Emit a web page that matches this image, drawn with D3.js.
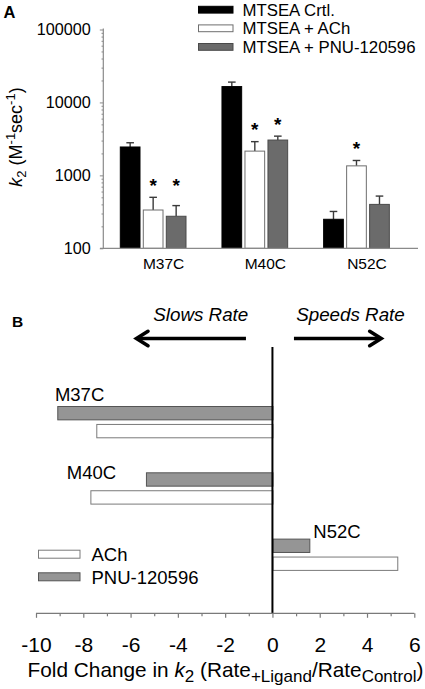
<!DOCTYPE html>
<html>
<head>
<meta charset="utf-8">
<script src="https://cdn.jsdelivr.net/npm/d3@7"></script>
<style>
  html, body { margin: 0; padding: 0; background: #fff; }
  svg { display: block; font-family: "Liberation Sans", Arial, Helvetica, sans-serif; }
</style>
</head>
<body>
<svg id="chart" width="425" height="689"></svg>
<script>
// ---------- Panel A data ----------
const mutants = ["M37C", "M40C", "N52C"];
const seriesA = ["MTSEA Crtl.", "MTSEA + ACh", "MTSEA + PNU-120596"];
const k2Ctrl = [2450, 16500, 250];
const k2ACh = [335, 2150, 1350];
const k2PNU = [275, 3050, 400];
const errCtrl = [2800, 19000, 320];
const errACh = [500, 2900, 1600];
const errPNU = [385, 3450, 520];
const sigCtrl = [false, false, false];
const sigACh = [true, true, true];
const sigPNU = [true, true, false];
const yTicksA = [100, 1000, 10000, 100000];

// ---------- Panel B data ----------
const seriesB = ["PNU-120596", "ACh"];
const foldACh = [-7.45, -7.7, 5.28];
const foldPNU = [-9.1, -5.35, 1.56];
const xTicksB = [-10, -8, -6, -4, -2, 0, 2, 4, 6];

const svg = d3.select("#chart");
const FONT = "\"Liberation Sans\", Arial, Helvetica, sans-serif";

// ================= PANEL A =================
const yA = d3.scaleLog().domain([100, 100000]).range([248.3, 29.5]);
const xA = d3.scaleBand().domain(mutants).range([102.3, 407.3]);
const xInA = d3.scaleBand().domain(seriesA).range([17.5, 84.2]).paddingInner(0.1);
const fillA = { "MTSEA Crtl.": "#000000", "MTSEA + ACh": "#ffffff", "MTSEA + PNU-120596": "#6b6b6b" };
const strokeA = { "MTSEA Crtl.": "#000000", "MTSEA + ACh": "#6e6e6e", "MTSEA + PNU-120596": "#4a4a4a" };

const rowsA = [];
mutants.forEach((m, i) => {
  rowsA.push({ m, s: seriesA[0], v: k2Ctrl[i], e: errCtrl[i], sig: sigCtrl[i] });
  rowsA.push({ m, s: seriesA[1], v: k2ACh[i], e: errACh[i], sig: sigACh[i] });
  rowsA.push({ m, s: seriesA[2], v: k2PNU[i], e: errPNU[i], sig: sigPNU[i] });
});

const gA = svg.append("g");

// error bars (behind bars)
const errG = gA.append("g").attr("stroke", "#3a3a3a").attr("stroke-width", 1.4);
rowsA.forEach(d => {
  const cx = xA(d.m) + xInA(d.s) + xInA.bandwidth() / 2;
  errG.append("line").attr("x1", cx).attr("x2", cx).attr("y1", yA(d.v)).attr("y2", yA(d.e));
  errG.append("line").attr("x1", cx - 3.8).attr("x2", cx + 3.8).attr("y1", yA(d.e)).attr("y2", yA(d.e));
});

gA.append("g").selectAll("rect").data(rowsA).join("rect")
  .attr("x", d => xA(d.m) + xInA(d.s) + 0.5)
  .attr("width", xInA.bandwidth() - 1)
  .attr("y", d => yA(d.v))
  .attr("height", d => yA(100) - yA(d.v))
  .attr("fill", d => fillA[d.s])
  .attr("stroke", d => strokeA[d.s])
  .attr("stroke-width", 1);

// asterisks
const sigRows = rowsA.filter(d => d.sig);
gA.append("g").selectAll("text").data(sigRows).join("text")
  .attr("x", d => xA(d.m) + xInA(d.s) + xInA.bandwidth() / 2)
  .attr("y", d => {
    const grp = sigRows.filter(r => r.m === d.m && d.m === "M37C");
    const e = grp.length ? d3.max(grp, r => r.e) : d.e;
    return yA(e) - 16 + 10.5;
  })
  .attr("text-anchor", "middle")
  .attr("font-size", 19).attr("font-weight", "bold")
  .text("*");

// Y axis (log) major + minor ticks
const minor = [];
for (let dec = 100; dec < 100000; dec *= 10) for (let k = 2; k <= 9; k++) minor.push(dec * k);
const yAxisMinor = gA.append("g").attr("transform", "translate(103.3,0)")
  .call(d3.axisLeft(yA).tickValues(minor).tickSize(1.8).tickFormat(""));
const yAxisMajor = gA.append("g").attr("transform", "translate(103.3,0)")
  .call(d3.axisLeft(yA).tickValues(yTicksA).tickSize(3.5).tickPadding(9.1).tickFormat(d3.format("d")));
[yAxisMinor, yAxisMajor].forEach(a => {
  a.select(".domain").remove();
  a.selectAll("line").attr("stroke", "#8a8a8a");
});
yAxisMajor.selectAll("text").attr("font-size", 16.2).attr("font-family", FONT).attr("fill", "#000");
gA.append("line").attr("x1", 103.3).attr("x2", 103.3).attr("y1", yA(100000) - 1).attr("y2", yA(100))
  .attr("stroke", "#8a8a8a").attr("stroke-width", 1.2);

// X axis
const xAxisA = gA.append("g").attr("transform", `translate(0,${yA(100)})`)
  .call(d3.axisBottom(xA).tickSize(0).tickPadding(9.5));
xAxisA.select(".domain").remove();
xAxisA.selectAll("text").attr("font-size", 15.5).attr("font-family", FONT).attr("fill", "#000")
  .attr("dx", 10.5);
gA.append("line").attr("x1", 100).attr("x2", 418).attr("y1", yA(100)).attr("y2", yA(100))
  .attr("stroke", "#8a8a8a").attr("stroke-width", 1.2);

// Y title
const yt = gA.append("text").attr("transform", "translate(22,137) rotate(-90)")
  .attr("text-anchor", "middle").attr("font-size", 18);
yt.append("tspan").attr("font-style", "italic").text("k");
yt.append("tspan").attr("font-size", 13).attr("dy", 4).text("2");
yt.append("tspan").attr("dy", -4).text(" (M");
yt.append("tspan").attr("font-size", 13).attr("dy", -7).text("-1");
yt.append("tspan").attr("dy", 7).text("sec");
yt.append("tspan").attr("font-size", 13).attr("dy", -7).text("-1");
yt.append("tspan").attr("dy", 7).text(")");

// Panel label
svg.append("text").attr("x", 3.5).attr("y", 18.3).attr("font-size", 16.5).attr("font-weight", "bold").text("A");

// Legend A
const legA = gA.append("g");
seriesA.forEach((s, i) => {
  const cy = 9.7 + i * 18.6;
  legA.append("rect").attr("x", 198.5).attr("y", cy - 3.4).attr("width", 34.5).attr("height", 6.8)
    .attr("fill", fillA[s]).attr("stroke", strokeA[s]).attr("stroke-width", 1);
  legA.append("text").attr("x", 242.5).attr("y", cy + 5.8).attr("font-size", 16.8).text(s);
});

// ================= PANEL B =================
const xB = d3.scaleLinear().domain([-10, 6]).range([36, 414.3]);
const yB = d3.scaleBand().domain(mutants).range([406, 570.9]).paddingInner(0.513);
const yInB = d3.scaleBand().domain(seriesB).range([0, yB.bandwidth()]).paddingInner(0.2);
const fillB = { "PNU-120596": "#959595", "ACh": "#ffffff" };
const strokeB = { "PNU-120596": "#555555", "ACh": "#7a7a7a" };

const rowsB = [];
mutants.forEach((m, i) => {
  rowsB.push({ m, s: "PNU-120596", v: foldPNU[i] });
  rowsB.push({ m, s: "ACh", v: foldACh[i] });
});

const gB = svg.append("g");
gB.append("g").selectAll("rect").data(rowsB).join("rect")
  .attr("x", d => Math.min(xB(0), xB(d.v)) + 0.5)
  .attr("width", d => Math.abs(xB(d.v) - xB(0)))
  .attr("y", d => yB(d.m) + yInB(d.s) + 0.5)
  .attr("height", yInB.bandwidth() - 1)
  .attr("fill", d => fillB[d.s])
  .attr("stroke", d => strokeB[d.s])
  .attr("stroke-width", 1);

// category labels in B (placed in data units)
const labelPosB = { M37C: [-9.2, -5.5], M40C: [-8.7, 6.5], N52C: [1.73, -0.3] };
gB.append("g").selectAll("text").data(mutants).join("text")
  .attr("x", m => xB(labelPosB[m][0]))
  .attr("y", m => yB(m) + labelPosB[m][1])
  .attr("font-size", 18.5)
  .text(m => m);

// zero line
gB.append("line").attr("x1", xB(0)).attr("x2", xB(0)).attr("y1", 347).attr("y2", 613.3)
  .attr("stroke", "#000").attr("stroke-width", 2);

// X axis B
const minorB = d3.range(-9, 6, 2);
const axB1 = gB.append("g").attr("transform", "translate(0,613.3)")
  .call(d3.axisBottom(xB).tickValues(minorB).tickSize(3).tickFormat(""));
const axB2 = gB.append("g").attr("transform", "translate(0,613.3)")
  .call(d3.axisBottom(xB).tickValues(xTicksB).tickSize(4.5).tickPadding(19).tickFormat(d3.format("d")));
[axB1, axB2].forEach(a => {
  a.select(".domain").remove();
  a.selectAll("line").attr("stroke", "#7a7a7a").attr("stroke-width", 1.2);
});
axB2.selectAll("text").attr("font-size", 21).attr("font-family", FONT).attr("fill", "#000")
  .text(d => d < 0 ? "-" + Math.abs(d) : d);
gB.append("line").attr("x1", xB(-10)).attr("x2", xB(6)).attr("y1", 613.3).attr("y2", 613.3)
  .attr("stroke", "#7a7a7a").attr("stroke-width", 1.2);

// X title B
const xt = gB.append("text").attr("x", 225.5).attr("y", 677).attr("text-anchor", "middle").attr("font-size", 20.8);
xt.append("tspan").text("Fold Change in ");
xt.append("tspan").attr("font-style", "italic").text("k");
xt.append("tspan").attr("font-size", 17).attr("dy", 4.5).text("2");
xt.append("tspan").attr("dy", -4.5).text(" (Rate");
xt.append("tspan").attr("font-size", 17).attr("dy", 4.5).text("+Ligand");
xt.append("tspan").attr("dy", -4.5).text("/Rate");
xt.append("tspan").attr("font-size", 17).attr("dy", 4.5).text("Control");
xt.append("tspan").attr("dy", -4.5).text(")");

// Panel label B
svg.append("text").attr("x", 12).attr("y", 327).attr("font-size", 15.5).attr("font-weight", "bold").text("B");

// Direction arrows
const arrowY = 338.5;
function arrow(fromV, toV) {
  const x0 = xB(fromV), x1 = xB(toV);
  const dir = Math.sign(x1 - x0);
  gB.append("line").attr("x1", x0).attr("x2", x1 - dir * 1.5).attr("y1", arrowY).attr("y2", arrowY)
    .attr("stroke", "#000").attr("stroke-width", 3.6);
  gB.append("path")
    .attr("d", `M${x1 - dir * 11.5},${arrowY - 7.2} L${x1},${arrowY} L${x1 - dir * 11.5},${arrowY + 7.2}`)
    .attr("fill", "none").attr("stroke", "#000").attr("stroke-width", 3.6)
    .attr("stroke-linejoin", "miter").attr("stroke-linecap", "round");
}
arrow(-1.12, -5.75);
arrow(0.91, 4.6);
gB.append("text").attr("x", xB(-3.03)).attr("y", 320.7).attr("text-anchor", "middle")
  .attr("font-size", 18.8).attr("font-style", "italic").text("Slows Rate");
gB.append("text").attr("x", xB(3.3)).attr("y", 320.7).attr("text-anchor", "middle")
  .attr("font-size", 18.8).attr("font-style", "italic").text("Speeds Rate");

// Legend B
const legB = gB.append("g");
["ACh", "PNU-120596"].forEach((s, i) => {
  const cy = 554.2 + i * 22.6;
  legB.append("rect").attr("x", 38.5).attr("y", cy - 4).attr("width", 41.5).attr("height", 8)
    .attr("fill", fillB[s]).attr("stroke", strokeB[s]).attr("stroke-width", 1);
  legB.append("text").attr("x", 91.5).attr("y", cy + 6.8).attr("font-size", 18.5).text(s);
});
</script>
</body>
</html>
